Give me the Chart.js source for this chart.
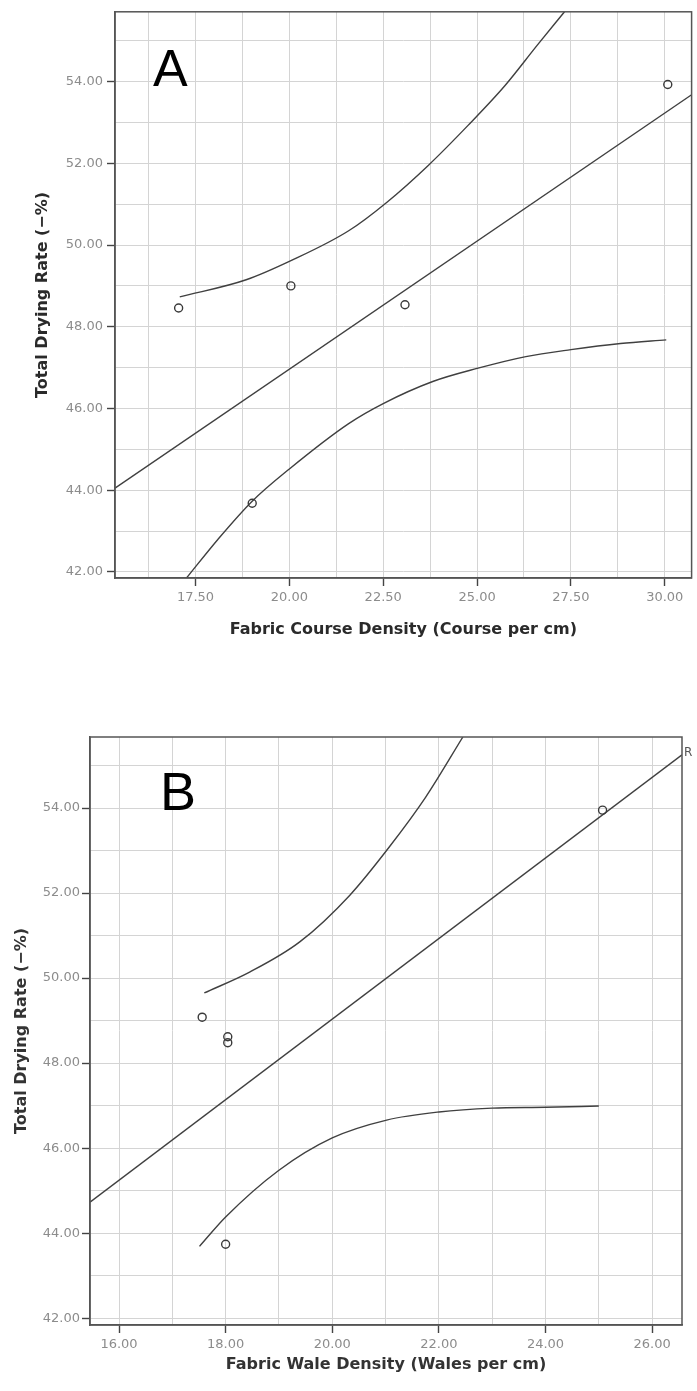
<!DOCTYPE html>
<html>
<head>
<meta charset="utf-8">
<script src="https://cdn.jsdelivr.net/npm/chart.js@4.4.1/dist/chart.umd.min.js"></script>
<style>
  html, body { margin: 0; padding: 0; background: #ffffff; }
  #wrap { position: relative; width: 697px; height: 1391px; }
  #cA { position: absolute; left: 0; top: 0; }
  #cB { position: absolute; left: 0; top: 660px; }
</style>
</head>
<body>
<div id="wrap">
  <canvas id="cA" width="697" height="643"></canvas>
  <canvas id="cB" width="697" height="731"></canvas>
</div>
<script>
// ---------- Panel A : course density ----------
const aObsX = [17.05, 20.04, 23.08, 19.01, 30.08];
const aObsY = [48.46, 49.00, 48.54, 43.68, 53.93];
const aFitX = [15.355, 30.715];
const aFitY = [44.05, 53.68];
const aUpX = [17.08, 18.85, 20.07, 21.58, 22.60, 23.70, 24.76, 25.74, 26.61, 27.33];
const aUpY = [48.73, 49.15, 49.63, 50.35, 51.05, 51.95, 52.93, 53.90, 54.90, 55.71];
const aLoX = [17.26, 18.10, 19.01, 20.00, 21.58, 22.50, 23.82, 25.00, 26.30, 27.50, 28.82, 30.04];
const aLoY = [41.85, 42.80, 43.73, 44.52, 45.63, 46.12, 46.66, 46.98, 47.27, 47.44, 47.59, 47.68];
const aXTickLabels = [17.5, 20.0, 22.5, 25.0, 27.5, 30.0];
const aXGrid = [16.25, 17.5, 18.75, 20.0, 21.25, 22.5, 23.75, 25.0, 26.25, 27.5, 28.75, 30.0];
const aYTickLabels = [42, 44, 46, 48, 50, 52, 54];
const aYGrid = [42, 43, 44, 45, 46, 47, 48, 49, 50, 51, 52, 53, 54, 55];

// ---------- Panel B : wale density ----------
const bObsX = [17.56, 18.04, 18.04, 18.00, 25.07];
const bObsY = [49.08, 48.62, 48.48, 43.74, 53.95];
const bFitX = [15.456, 26.56];
const bFitY = [44.73, 55.25];
const bUpX = [17.60, 18.45, 19.39, 20.33, 21.08, 21.75, 22.45];
const bUpY = [49.65, 50.14, 50.85, 51.95, 53.10, 54.25, 55.67];
const bLoX = [17.51, 18.00, 19.00, 20.00, 21.02, 22.00, 23.00, 24.00, 25.00];
const bLoY = [43.69, 44.38, 45.48, 46.24, 46.66, 46.85, 46.94, 46.96, 46.99];
const bXTickLabels = [16, 18, 20, 22, 24, 26];
const bXGrid = [16, 17, 18, 19, 20, 21, 22, 23, 24, 25, 26];
const bYTickLabels = [42, 44, 46, 48, 50, 52, 54];
const bYGrid = [42, 43, 44, 45, 46, 47, 48, 49, 50, 51, 52, 53, 54, 55];

const toPts = (xs, ys) => xs.map((x, i) => ({ x: x, y: ys[i] }));
const isIn = (arr, v) => arr.some(a => Math.abs(a - v) < 1e-6);

const frame = {
  id: 'frame',
  afterDraw(chart) {
    const { ctx, chartArea: a } = chart;
    ctx.save();
    ctx.strokeStyle = '#555';
    ctx.lineWidth = 1.5;
    ctx.strokeRect(a.left, a.top, a.right - a.left, a.bottom - a.top);
    const o = chart.options.plugins.panelText || {};
    (o.items || []).forEach(it => {
      ctx.font = it.font;
      ctx.fillStyle = it.color;
      ctx.textAlign = 'left';
      ctx.textBaseline = 'middle';
      ctx.fillText(it.text, a.left + it.dx, a.top + it.dy);
    });
    ctx.restore();
  }
};

function makeChart(id, cfg) {
  const lineColor = '#404040';
  const curve = { showLine: true, pointRadius: 0, borderColor: lineColor, borderWidth: 1.4,
                  cubicInterpolationMode: 'monotone' };
  const datasets = [
    { data: toPts(cfg.obsX, cfg.obsY), showLine: false, pointRadius: 4, pointBorderWidth: 1.4,
      pointBorderColor: '#3a3a3a', pointBackgroundColor: 'rgba(255,255,255,0)', pointStyle: 'circle' },
    { data: toPts(cfg.fitX, cfg.fitY), showLine: true, pointRadius: 0, borderColor: lineColor, borderWidth: 1.4, tension: 0 },
    Object.assign({ data: toPts(cfg.upX, cfg.upY) }, curve),
    Object.assign({ data: toPts(cfg.loX, cfg.loY) }, curve)
  ];
  const tickFont = { family: 'DejaVu Sans', size: 13 };
  const titleFont = { family: 'DejaVu Sans', size: 16, weight: 'bold' };
  return new Chart(document.getElementById(id), {
    type: 'scatter',
    data: { datasets: datasets },
    plugins: [frame],
    options: {
      responsive: false,
      animation: false,
      events: [],
      layout: { padding: cfg.pad },
      plugins: {
        legend: { display: false },
        tooltip: { enabled: false },
        panelText: { items: cfg.texts }
      },
      scales: {
        x: {
          type: 'linear', min: cfg.xMin, max: cfg.xMax,
          afterBuildTicks: (s) => { s.ticks = cfg.xGrid.map(v => ({ value: v })); },
          afterFit: (s) => { s.height = cfg.xH; },
          grid: {
            color: '#d4d4d4', lineWidth: 1, tickLength: 8, tickWidth: 1.4,
            tickColor: (c) => (c.tick && isIn(cfg.xLab, c.tick.value)) ? '#444' : 'rgba(0,0,0,0)'
          },
          border: { display: true, color: '#555', width: 1.5 },
          ticks: {
            autoSkip: false, maxRotation: 0, padding: 4, color: '#8c8c8c', font: tickFont,
            callback: (v) => isIn(cfg.xLab, v) ? Number(v).toFixed(2) : ''
          },
          title: { display: true, text: cfg.xTitle, color: cfg.titleColor, font: titleFont,
                   padding: { top: 0, bottom: cfg.xTitlePad } }
        },
        y: {
          type: 'linear', min: cfg.yMin, max: cfg.yMax,
          afterBuildTicks: (s) => { s.ticks = cfg.yGrid.map(v => ({ value: v })); },
          afterFit: (s) => { s.width = cfg.yW; },
          grid: {
            color: '#d4d4d4', lineWidth: 1, tickLength: 8, tickWidth: 1.4,
            tickColor: (c) => (c.tick && isIn(cfg.yLab, c.tick.value)) ? '#444' : 'rgba(0,0,0,0)'
          },
          border: { display: true, color: '#555', width: 1.5 },
          ticks: {
            autoSkip: false, padding: cfg.yTickPad, color: '#8c8c8c', font: tickFont,
            callback: (v) => isIn(cfg.yLab, v) ? Number(v).toFixed(2) : ''
          },
          title: { display: true, text: 'Total Drying Rate (\u2212%)', color: cfg.titleColor, font: titleFont,
                   padding: { top: cfg.yTitlePad, bottom: 0 } }
        }
      }
    }
  });
}

makeChart('cA', {
  obsX: aObsX, obsY: aObsY, fitX: aFitX, fitY: aFitY, upX: aUpX, upY: aUpY, loX: aLoX, loY: aLoY,
  xMin: 15.355, xMax: 30.715, yMin: 41.85, yMax: 55.71,
  xGrid: aXGrid, xLab: aXTickLabels, yGrid: aYGrid, yLab: aYTickLabels,
  pad: { top: 10, right: 2, left: 0, bottom: 0 }, xH: 65, yW: 115, yTickPad: 4,
  xTitle: 'Fabric Course Density (Course per cm)', xTitlePad: 3.4, yTitlePad: 33.4, titleColor: '#2a2a2a',
  texts: [{ text: 'A', font: '52px "Liberation Sans"', color: '#000', dx: 38, dy: 60 }]
});

makeChart('cB', {
  obsX: bObsX, obsY: bObsY, fitX: bFitX, fitY: bFitY, upX: bUpX, upY: bUpY, loX: bLoX, loY: bLoY,
  xMin: 15.456, xMax: 26.56, yMin: 41.84, yMax: 55.67,
  xGrid: bXGrid, xLab: bXTickLabels, yGrid: bYGrid, yLab: bYTickLabels,
  pad: { top: 77, right: 15, left: 0, bottom: 0 }, xH: 66, yW: 90, yTickPad: 2,
  xTitle: 'Fabric Wale Density (Wales per cm)', xTitlePad: 16.4, yTitlePad: 12.4, titleColor: '#333',
  texts: [
    { text: 'B', font: '54px "Liberation Sans"', color: '#000', dx: 70, dy: 58 },
    { text: 'R', font: '12px "DejaVu Sans"', color: '#555', dx: 594, dy: 16 }
  ]
});
</script>
</body>
</html>
